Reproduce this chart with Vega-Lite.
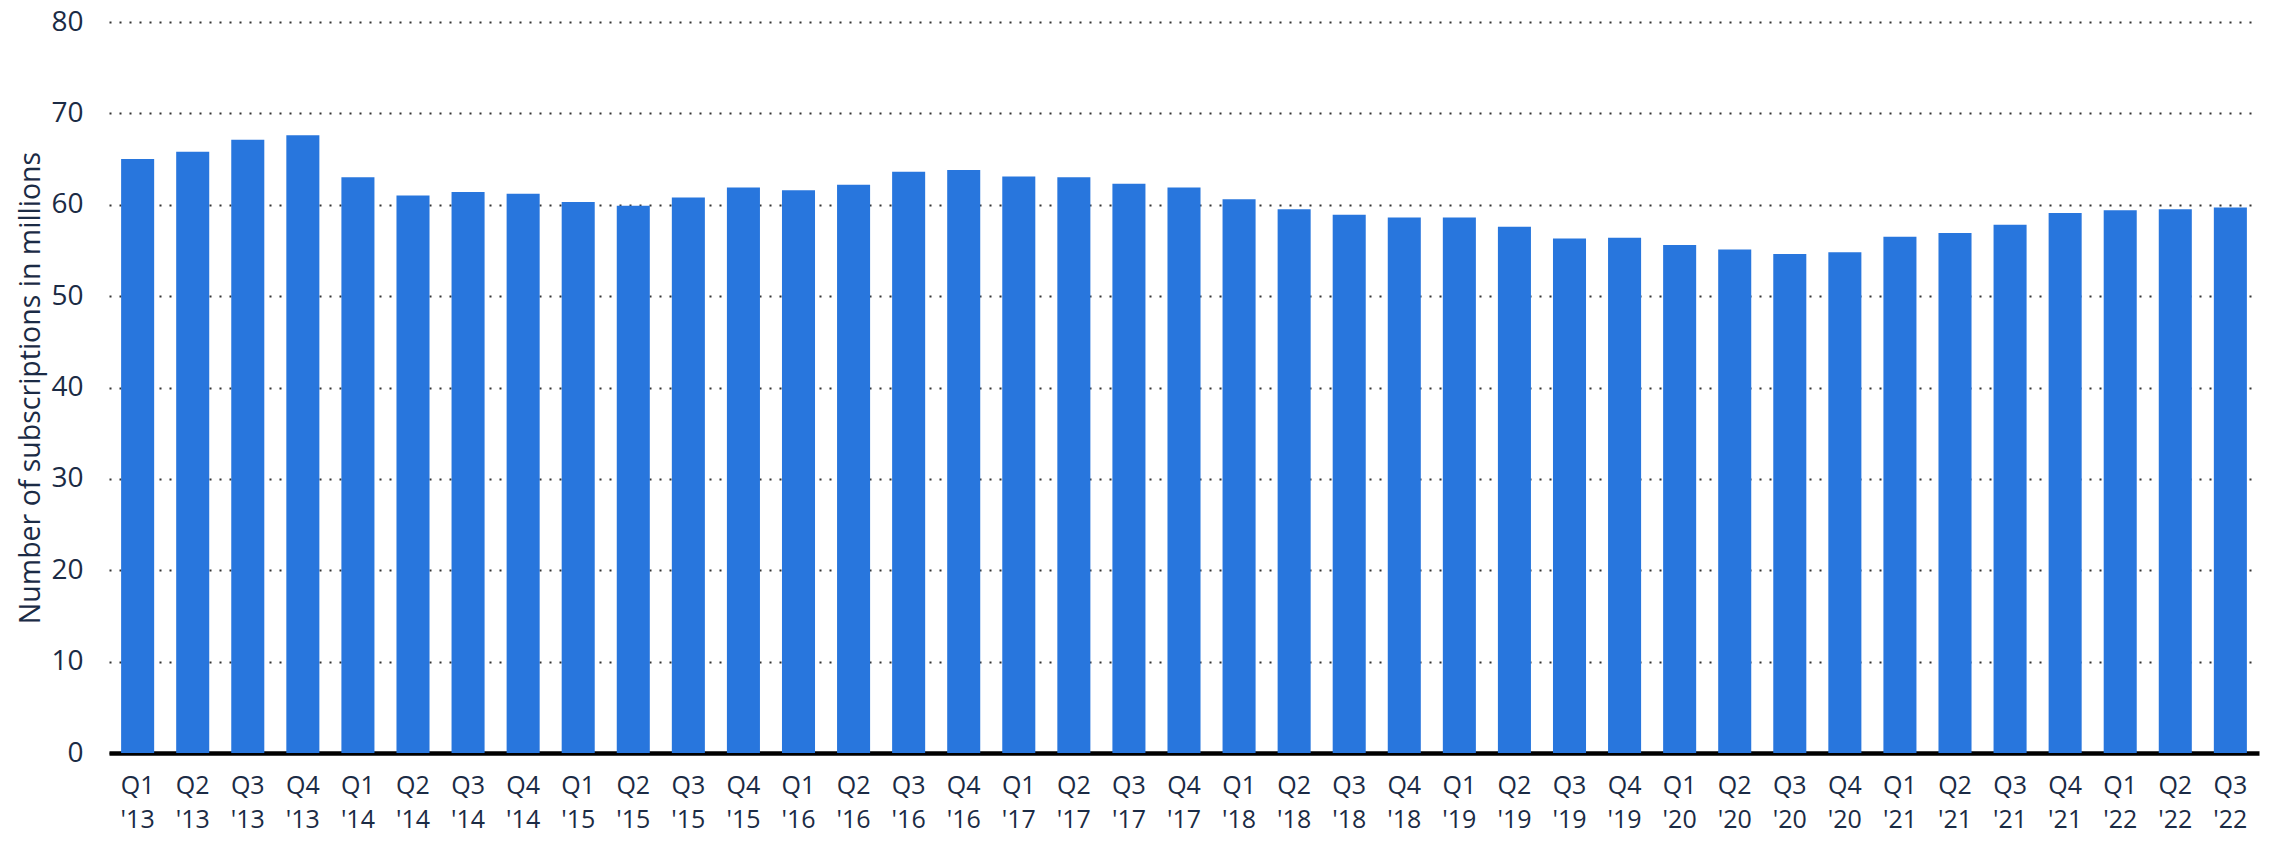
{
  "$schema": "https://vega.github.io/schema/vega-lite/v6.json",
  "width": 2150,
  "height": 731,
  "autosize": {"type": "none"},
  "padding": {"left": 109, "top": 22, "right": 17, "bottom": 89},
  "background": "white",
  "config": {
    "view": {"stroke": null},
    "font": "Open Sans",
    "axis": {"labelFont": "Open Sans", "titleFont": "Open Sans", "labelColor": "#1b2b45", "titleColor": "#1b2b45"}
  },
  "data": {
    "values": [
      {"q": "Q1 '13", "v": 65.0}, {"q": "Q2 '13", "v": 65.8}, {"q": "Q3 '13", "v": 67.1}, {"q": "Q4 '13", "v": 67.6},
      {"q": "Q1 '14", "v": 63.0}, {"q": "Q2 '14", "v": 61.0}, {"q": "Q3 '14", "v": 61.4}, {"q": "Q4 '14", "v": 61.2},
      {"q": "Q1 '15", "v": 60.3}, {"q": "Q2 '15", "v": 59.9}, {"q": "Q3 '15", "v": 60.8}, {"q": "Q4 '15", "v": 61.9},
      {"q": "Q1 '16", "v": 61.6}, {"q": "Q2 '16", "v": 62.2}, {"q": "Q3 '16", "v": 63.6}, {"q": "Q4 '16", "v": 63.8},
      {"q": "Q1 '17", "v": 63.1}, {"q": "Q2 '17", "v": 63.0}, {"q": "Q3 '17", "v": 62.3}, {"q": "Q4 '17", "v": 61.9},
      {"q": "Q1 '18", "v": 60.6}, {"q": "Q2 '18", "v": 59.5}, {"q": "Q3 '18", "v": 58.9}, {"q": "Q4 '18", "v": 58.6},
      {"q": "Q1 '19", "v": 58.6}, {"q": "Q2 '19", "v": 57.6}, {"q": "Q3 '19", "v": 56.3}, {"q": "Q4 '19", "v": 56.4},
      {"q": "Q1 '20", "v": 55.6}, {"q": "Q2 '20", "v": 55.1}, {"q": "Q3 '20", "v": 54.6}, {"q": "Q4 '20", "v": 54.8},
      {"q": "Q1 '21", "v": 56.5}, {"q": "Q2 '21", "v": 56.9}, {"q": "Q3 '21", "v": 57.8}, {"q": "Q4 '21", "v": 59.1},
      {"q": "Q1 '22", "v": 59.4}, {"q": "Q2 '22", "v": 59.5}, {"q": "Q3 '22", "v": 59.7}
    ]
  },
  "mark": {"type": "bar", "color": "#2876dd"},
  "encoding": {
    "x": {
      "field": "q",
      "type": "nominal",
      "sort": null,
      "scale": {"paddingInner": 0.4, "paddingOuter": 0.22},
      "axis": {
        "title": null,
        "labelAngle": 0,
        "labelExpr": "split(datum.label, ' ')",
        "labelFontSize": 25,
        "labelLineHeight": 34.2,
        "labelPadding": 20,
        "ticks": false,
        "domainColor": "#000000",
        "domainWidth": 4.5,
        "labelBaseline": "top"
      }
    },
    "y": {
      "field": "v",
      "type": "quantitative",
      "scale": {"domain": [0, 80], "nice": false},
      "axis": {
        "title": "Number of subscriptions in millions",
        "titleFontSize": 28.5,
        "titleFontWeight": "normal",
        "titlePadding": 5,
        "values": [0, 10, 20, 30, 40, 50, 60, 70, 80],
        "labelFontSize": 28,
        "labelPadding": 26,
        "ticks": false,
        "domain": false,
        "grid": true,
        "gridColor": "#333333",
        "gridWidth": 2,
        "gridDash": [2, 8]
      }
    }
  }
}
